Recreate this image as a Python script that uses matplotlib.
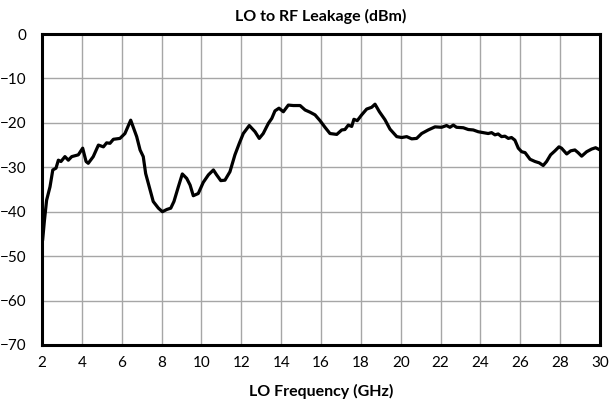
import matplotlib
matplotlib.use('Agg')
import matplotlib.pyplot as plt

plt.rcParams['font.family'] = ['Lato', 'DejaVu Sans']

# LO frequency (GHz) and leakage (dBm)
freq = [2.0, 2.03, 2.12, 2.23, 2.4, 2.54, 2.7, 2.82, 2.95, 3.15, 3.32, 3.49, 3.82, 4.04,
        4.21, 4.32, 4.57, 4.83, 5.08, 5.24, 5.41, 5.58, 5.91, 6.16, 6.45, 6.75, 6.92,
        7.08, 7.2, 7.42, 7.58, 7.84, 8.04, 8.26, 8.46, 8.62, 8.84, 9.04, 9.26, 9.43,
        9.59, 9.84, 10.09, 10.35, 10.6, 10.76, 10.97, 11.18, 11.43, 11.68, 11.9, 12.1,
        12.4, 12.69, 12.9, 13.1, 13.36, 13.53, 13.69, 13.89, 14.11, 14.36, 14.61, 14.95,
        15.2, 15.45, 15.7, 15.95, 16.2, 16.45, 16.79, 17.04, 17.2, 17.37, 17.54, 17.65,
        17.82, 18.04, 18.29, 18.54, 18.71, 18.93, 19.21, 19.46, 19.8, 20.05, 20.3, 20.55,
        20.8, 21.05, 21.38, 21.72, 22.05, 22.3, 22.47, 22.64, 22.8, 23.14, 23.39, 23.64,
        23.89, 24.14, 24.39, 24.56, 24.73, 24.89, 25.06, 25.23, 25.4, 25.56, 25.73, 25.9,
        26.07, 26.24, 26.49, 26.74, 26.95, 27.15, 27.32, 27.52, 27.74, 27.94, 28.07,
        28.33, 28.53, 28.74, 28.9, 29.08, 29.33, 29.58, 29.78, 30.0]
leakage = [-46.8, -46.4, -42.0, -37.4, -34.4, -30.6, -30.2, -28.4, -28.7, -27.6, -28.4,
           -27.6, -27.2, -25.7, -28.7, -29.1, -27.6, -25.0, -25.4, -24.5, -24.6, -23.7,
           -23.5, -22.4, -19.4, -23.1, -26.1, -27.6, -31.4, -35.1, -37.7, -39.2, -40.0,
           -39.5, -39.2, -37.7, -34.4, -31.5, -32.5, -34.0, -36.4, -35.9, -33.4, -31.7,
           -30.6, -31.7, -33.0, -32.9, -31.0, -27.2, -24.6, -22.4, -20.6, -22.0, -23.5,
           -22.4, -20.1, -19.0, -17.3, -16.7, -17.5, -16.0, -16.1, -16.1, -17.1, -17.6,
           -18.2, -19.5, -21.0, -22.4, -22.6, -21.6, -21.5, -20.5, -20.8, -19.2, -19.5,
           -18.2, -16.9, -16.5, -15.8, -17.5, -19.3, -21.4, -23.1, -23.3, -23.1, -23.6,
           -23.5, -22.4, -21.6, -20.9, -21.0, -20.6, -21.0, -20.5, -21.0, -21.1, -21.5,
           -21.6, -22.0, -22.2, -22.4, -22.2, -22.7, -22.5, -23.1, -23.0, -23.5, -23.3,
           -23.9, -25.7, -26.5, -26.7, -28.2, -28.7, -29.0, -29.6, -28.7, -27.2, -26.3,
           -25.4, -25.7, -27.0, -26.3, -26.1, -26.7, -27.5, -26.5, -25.9, -25.6, -26.1]

fig = plt.figure(figsize=(6.1, 4.0), dpi=100)
ax = fig.add_axes([0.0689, 0.1375, 0.9147, 0.7775])

ax.plot(freq, leakage, color='black', linewidth=2.3, solid_joinstyle='round')

ax.set_xlim(2, 30)
ax.set_ylim(-70, 0)
ax.set_xticks(range(2, 31, 2))
ax.set_yticks(range(-70, 1, 10))
ax.grid(True, color='#a6a6a6', linewidth=1.0)
ax.set_axisbelow(True)
ax.tick_params(length=0, labelsize=11, pad=8)
ax.tick_params(axis='y', pad=11)
for s in ax.spines.values():
    s.set_linewidth(2.2)
    s.set_color('black')

ax.set_title('LO to RF Leakage (dBm)', fontsize=11.5, fontweight='bold', pad=9)
ax.set_xlabel('LO Frequency (GHz)', fontsize=11.5, fontweight='bold', labelpad=10)

fig.savefig('out.png', dpi=100)
